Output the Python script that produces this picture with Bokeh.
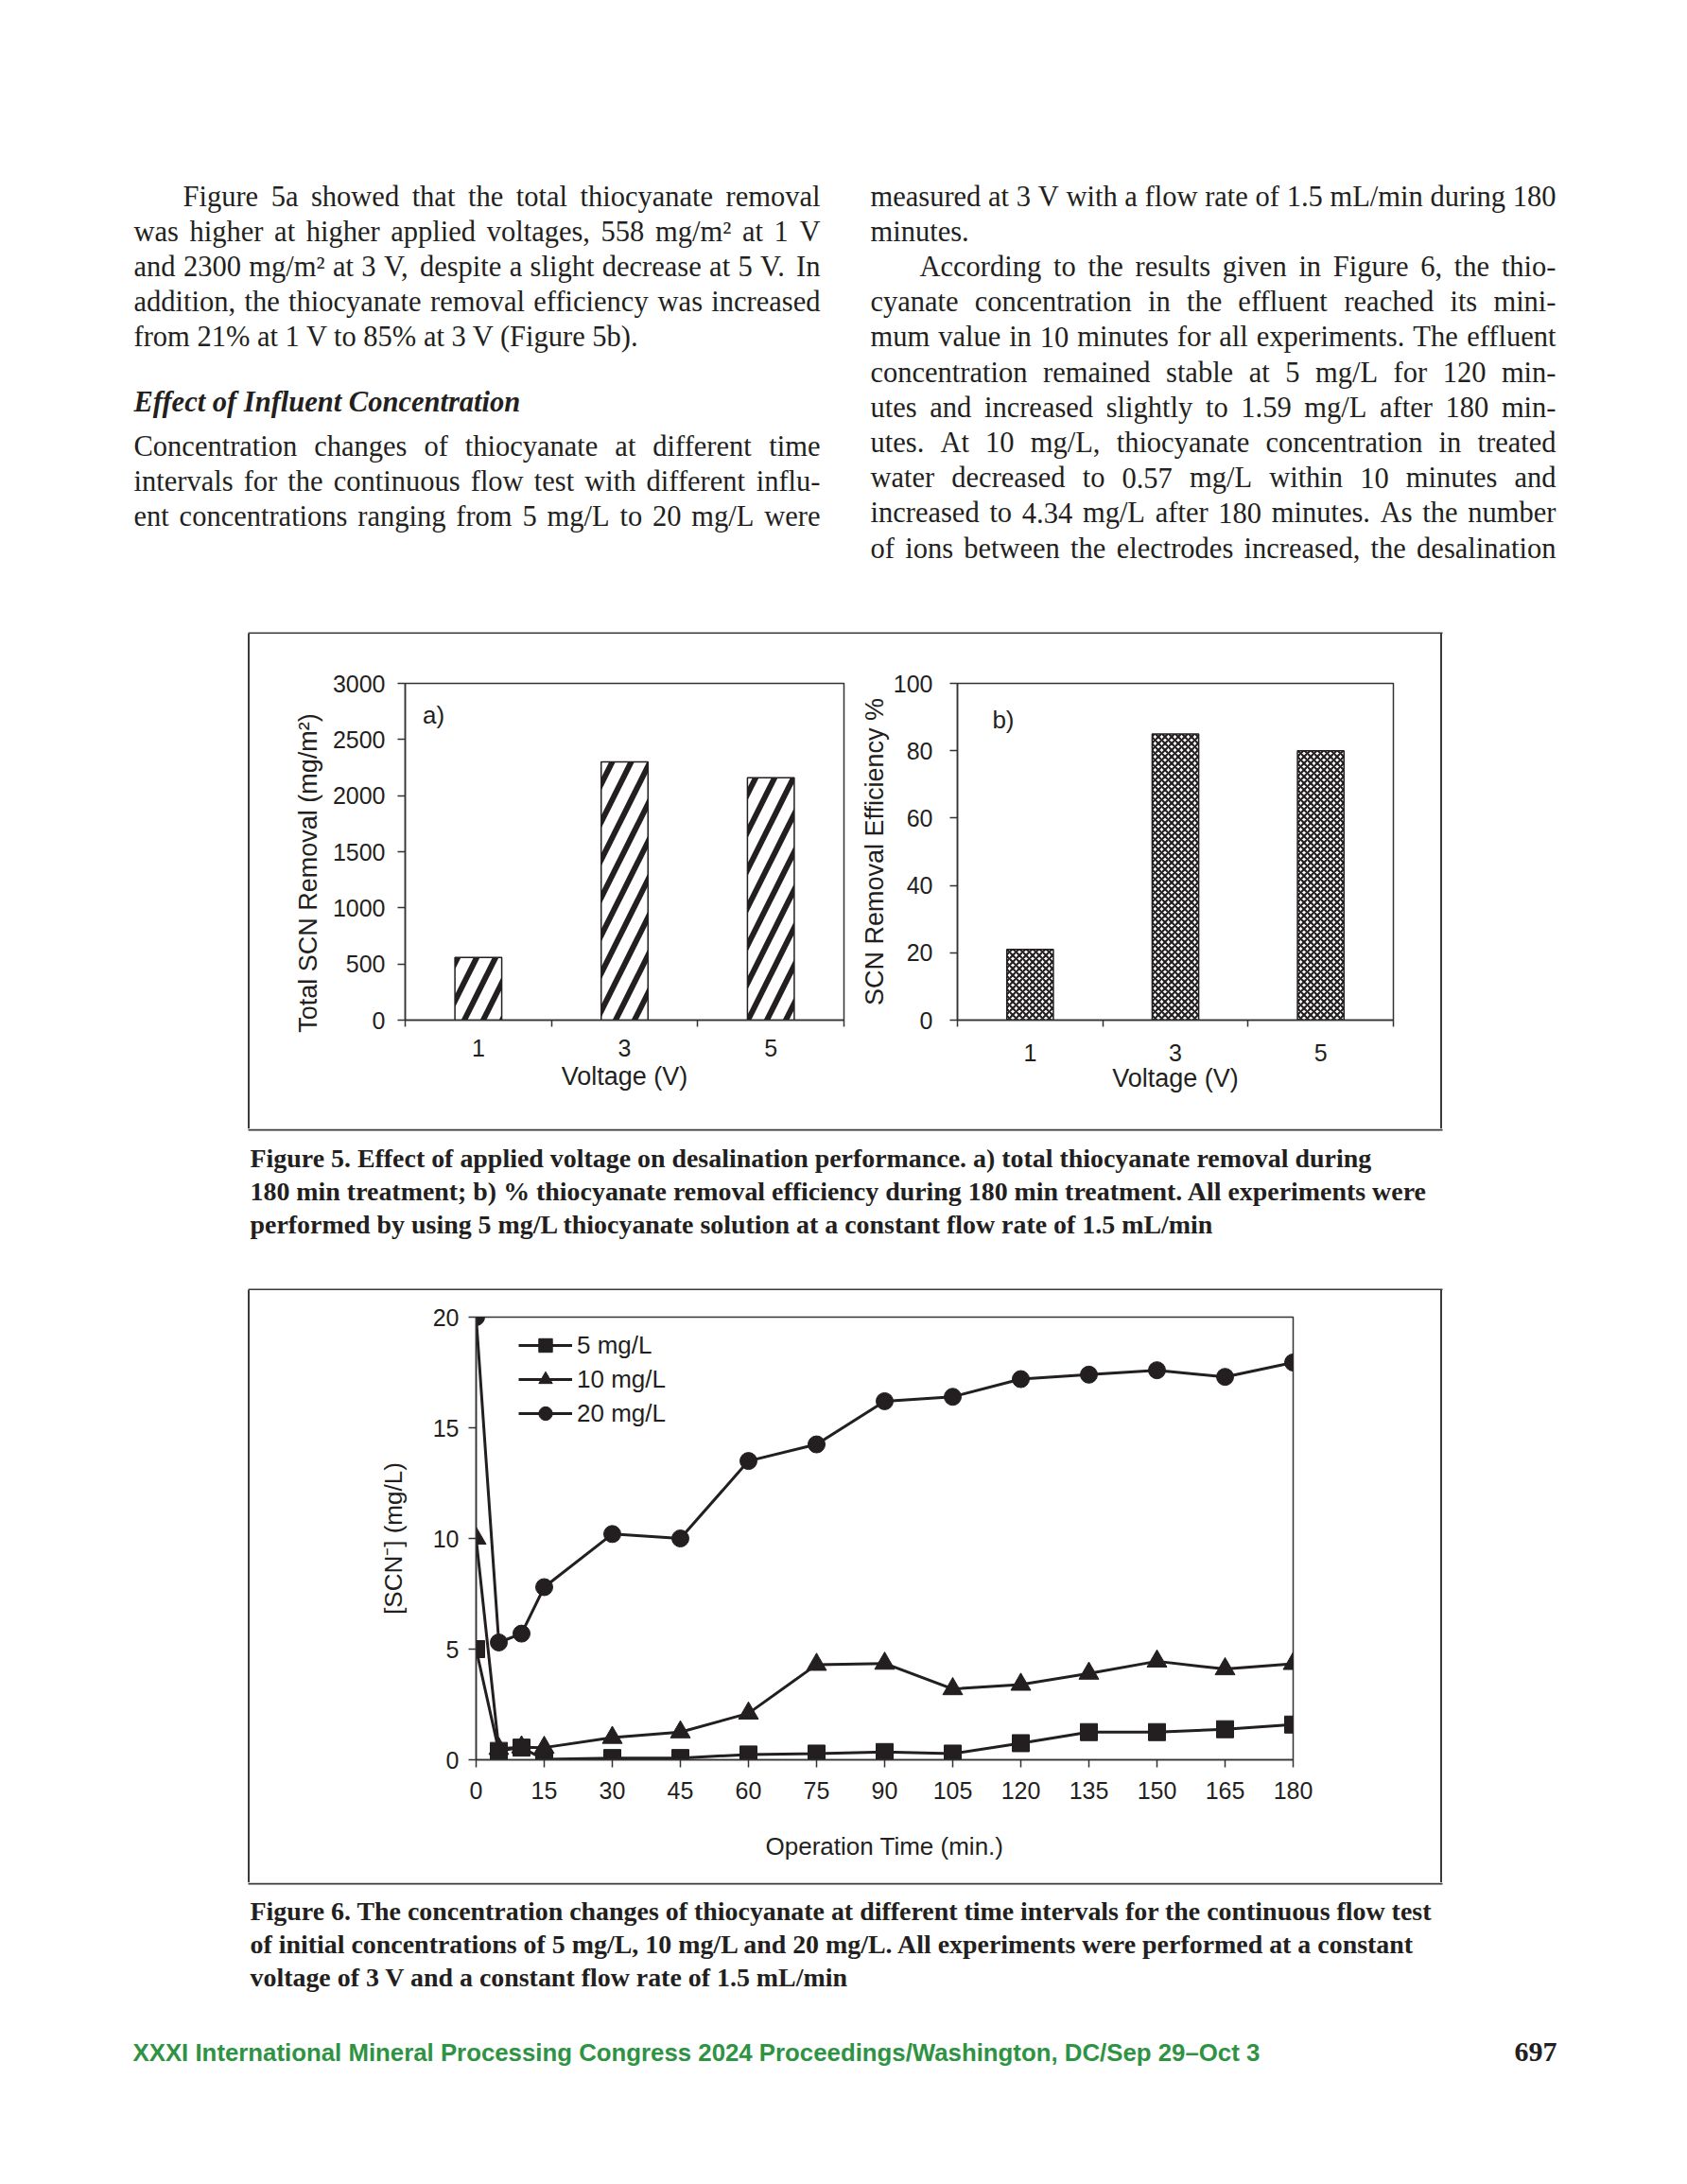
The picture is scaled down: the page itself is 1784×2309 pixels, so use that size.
from bokeh.plotting import figure
from bokeh.layouts import column, row
from bokeh.models import Range1d, FixedTicker, Legend, LegendItem, Div
from bokeh.core.properties import value
from bokeh.embed import file_html
from bokeh.resources import INLINE

# ---------------- data ----------------
voltage_labels = ["1", "3", "5"]
total_removal = [558, 2300, 2160]          # mg/m2
removal_eff = [21, 85, 80]                 # %
removal_ticks = [0, 500, 1000, 1500, 2000, 2500, 3000]
eff_ticks = [0, 20, 40, 60, 80, 100]

time_min = [0, 5, 10, 15, 30, 45, 60, 75, 90, 105, 120, 135, 150, 165, 180]
scn_5 = [5.0, 0.4, 0.55, 0.02, 0.08, 0.08, 0.24, 0.28, 0.35, 0.28, 0.75, 1.25, 1.25, 1.38, 1.59]
scn_10 = [10.0, 0.5, 0.57, 0.55, 1.0, 1.25, 2.1, 4.3, 4.35, 3.2, 3.4, 3.9, 4.45, 4.1, 4.34]
scn_20 = [20.0, 5.3, 5.7, 7.8, 10.2, 10.0, 13.5, 14.25, 16.2, 16.4, 17.2, 17.4, 17.6, 17.3, 17.95]
time_ticks = [0, 15, 30, 45, 60, 75, 90, 105, 120, 135, 150, 165, 180]
scn_ticks = [0, 5, 10, 15, 20]
series_labels = ["5 mg/L", "10 mg/L", "20 mg/L"]

left_col = [
    "Figure 5a showed that the total thiocyanate removal",
    "was higher at higher applied voltages, 558 mg/m\u00b2 at 1 V",
    "and 2300 mg/m\u00b2 at 3 V, despite a slight decrease at 5 V. In",
    "addition, the thiocyanate removal efficiency was increased",
    "from 21% at 1 V to 85% at 3 V (Figure 5b).",
]
heading = "Effect of Influent Concentration"
left_col2 = [
    "Concentration changes of thiocyanate at different time",
    "intervals for the continuous flow test with different influ-",
    "ent concentrations ranging from 5 mg/L to 20 mg/L were",
]
right_col = [
    "measured at 3 V with a flow rate of 1.5 mL/min during 180",
    "minutes.",
    "According to the results given in Figure 6, the thio-",
    "cyanate concentration in the effluent reached its mini-",
    "mum value in 10 minutes for all experiments. The effluent",
    "concentration remained stable at 5 mg/L for 120 min-",
    "utes and increased slightly to 1.59 mg/L after 180 min-",
    "utes. At 10 mg/L, thiocyanate concentration in treated",
    "water decreased to 0.57 mg/L within 10 minutes and",
    "increased to 4.34 mg/L after 180 minutes. As the number",
    "of ions between the electrodes increased, the desalination",
]
caption5 = [
    "Figure 5. Effect of applied voltage on desalination performance. a) total thiocyanate removal during",
    "180 min treatment; b) % thiocyanate removal efficiency during 180 min treatment. All experiments were",
    "performed by using 5 mg/L thiocyanate solution at a constant flow rate of 1.5 mL/min",
]
caption6 = [
    "Figure 6. The concentration changes of thiocyanate at different time intervals for the continuous flow test",
    "of initial concentrations of 5 mg/L, 10 mg/L and 20 mg/L. All experiments were performed at a constant",
    "voltage of 3 V and a constant flow rate of 1.5 mL/min",
]
footer = "XXXI International Mineral Processing Congress 2024 Proceedings/Washington, DC/Sep 29\u2013Oct 3"
page_no = "697"

# ---------------- styling ----------------
INK = "#231f20"
AX = "#333333"
BOXC = "#3a3a3a"
SANS = "Liberation Sans"
SERIF = "Liberation Serif"
DY = -9   # baseline correction for page texts

# Times-compatible advance widths (em) used to justify the body text
_R = dict(zip("abcdefghijklmnopqrstuvwxyz",
              [.444, .5, .444, .5, .444, .333, .5, .5, .278, .278, .5, .278, .778, .5, .5, .5, .5, .333, .389, .278, .5, .5, .722, .5, .5, .444]))
_R.update(zip("ABCDEFGHIJKLMNOPQRSTUVWXYZ",
              [.722, .667, .667, .722, .611, .556, .722, .722, .333, .389, .722, .611, .889, .722, .722, .556, .722, .667, .556, .611, .722, .722, .944, .722, .722, .611]))
_R.update({c: .5 for c in "0123456789"})
_R.update({".": .25, ",": .25, ";": .278, ":": .278, "-": .333, "/": .278, "(": .333, ")": .333, "%": .833, "\u00b2": .3, " ": .25})
_B = dict(zip("abcdefghijklmnopqrstuvwxyz",
              [.5, .556, .444, .556, .444, .333, .5, .556, .278, .333, .556, .278, .833, .556, .5, .556, .556, .444, .389, .333, .556, .5, .722, .5, .5, .444]))
_B.update(zip("ABCDEFGHIJKLMNOPQRSTUVWXYZ",
              [.722, .667, .722, .722, .667, .611, .778, .778, .389, .5, .778, .667, .944, .722, .778, .611, .778, .722, .556, .667, .722, .722, 1.0, .722, .722, .667]))
_B.update({c: .5 for c in "0123456789"})
_B.update({".": .25, ",": .25, ";": .333, ":": .333, "-": .333, "/": .278, "(": .333, ")": .333, "%": 1.0, " ": .25})


def em(s, table):
    return sum(table.get(c, .5) for c in s)


def fit_size(lines, widths, table, cap, min_gap=0.2):
    best = cap
    for ln, w in zip(lines, widths):
        words = ln.split(" ")
        need = sum(em(x, table) for x in words) + min_gap * (len(words) - 1)
        best = min(best, w / need)
    return best


def set_text(fig, lines, x_left, x_rights, baselines, size, table, font, justify, style="normal", indents=None, color=INK):
    lx, ly, lt, rx, ry, rt = [], [], [], [], [], []
    for i, ln in enumerate(lines):
        x0 = x_left + (indents[i] if indents else 0)
        y = baselines[i] + DY
        words = ln.split(" ")
        if not (justify[i] and len(words) > 1):
            lx.append(x0); ly.append(y); lt.append(ln)
            continue
        wds = [em(w, table) * size for w in words]
        gap = (x_rights[i] - x0 - sum(wds)) / (len(words) - 1)
        x = x0
        for j, (w, wd) in enumerate(zip(words, wds)):
            if j == len(words) - 1:
                rx.append(x_rights[i]); ry.append(y); rt.append(w)
            else:
                lx.append(x); ly.append(y); lt.append(w)
            x += wd + gap
    common = dict(text_font=value(font), text_font_size=f"{size:.2f}px", text_font_style=style,
                  text_baseline="alphabetic", text_color=color)
    fig.text(x=lx, y=ly, text=lt, text_align="left", **common)
    if rt:
        fig.text(x=rx, y=ry, text=rt, text_align="right", **common)


def page_fig(x0, x1, y0, y1):
    f = figure(width=x1 - x0, height=y1 - y0, x_range=Range1d(x0, x1), y_range=Range1d(y1, y0),
               x_axis_location=None, y_axis_location=None, toolbar_location=None,
               output_backend="svg", min_border=0, title=None)
    f.grid.visible = False
    f.outline_line_color = None
    f.background_fill_color = "white"
    f.border_fill_color = "white"
    return f


def side_pad(w, h, line_x):
    svg = (f'<svg width="{w}" height="{h}" style="display:block">'
           f'<rect x="{line_x}" y="0" width="2" height="{h}" fill="{BOXC}"/></svg>')
    return Div(text=svg, width=w, height=h, styles={"margin": "0", "padding": "0", "overflow": "hidden"})


BOX = dict(line_color=BOXC, line_width=2)
PAGE_W = 1784

# ---------------- page text (top) ----------------
top = page_fig(0, PAGE_W, 0, 670)
body_size = fit_size(left_col[:4] + left_col2 + [right_col[0]] + right_col[2:],
                     [867 - 141] * 7 + [1645 - 920] * 10, _R, 30.5, 0.2)
lead = 37.2
b0 = 216
set_text(top, left_col, 141, [867] * 5, [b0 + k * lead for k in range(5)], body_size, _R, SERIF,
         [True, True, True, True, False], indents=[52, 0, 0, 0, 0])
set_text(top, [heading], 141, [560], [433], body_size, _R, SERIF, [False], style="bold italic")
set_text(top, left_col2, 141, [867] * 3, [480, 517, 554], body_size, _R, SERIF, [True, True, True])
set_text(top, right_col, 920, [1645] * 11, [b0 + k * lead for k in range(11)], body_size, _R, SERIF,
         [True, False] + [True] * 9, indents=[0, 0, 52] + [0] * 8)
top.segment(x0=[262], y0=[669], x1=[1525], y1=[669], **BOX)

# ---------------- Figure 5 ----------------
xpos = [i + 0.5 for i in range(len(voltage_labels))]
bounds = [float(i) for i in range(len(voltage_labels) + 1)]


def bar_chart(width, mb, yr, ticks, values, ylabel, hatch, tag, tag_xy, tick_size, lab_std, ax_std, xl_std, xax_std):
    p = figure(width=width, height=523, x_range=Range1d(0, len(voltage_labels)), y_range=Range1d(*yr),
               toolbar_location=None, output_backend="svg", title=None,
               min_border_left=mb[0], min_border_right=mb[1], min_border_top=mb[2], min_border_bottom=mb[3])
    p.grid.visible = False
    p.background_fill_color = "white"
    p.border_fill_color = "white"
    p.outline_line_color = AX
    p.outline_line_width = 1.5
    p.vbar(x=xpos, top=values, width=0.32, fill_color="white", line_color=INK, line_width=1.5, **hatch)
    p.xaxis.ticker = FixedTicker(ticks=xpos, minor_ticks=bounds)
    p.xaxis.major_label_overrides = {x: lab for x, lab in zip(xpos, voltage_labels)}
    p.xaxis.major_tick_out = 0
    p.xaxis.major_tick_in = 0
    p.xaxis.minor_tick_out = 7
    p.xaxis.minor_tick_in = 0
    p.xaxis.minor_tick_line_color = AX
    p.xaxis.minor_tick_line_width = 1.5
    p.xaxis.axis_label = "Voltage (V)"
    p.xaxis.major_label_standoff = xl_std
    p.xaxis.axis_label_standoff = xax_std
    p.yaxis.ticker = FixedTicker(ticks=ticks, minor_ticks=[])
    p.yaxis.major_tick_out = 8
    p.yaxis.major_tick_in = 0
    p.yaxis.major_label_standoff = lab_std
    p.yaxis.axis_label = ylabel
    p.yaxis.axis_label_standoff = ax_std
    for ax in (p.xaxis, p.yaxis):
        ax.axis_line_color = AX
        ax.axis_line_width = 1.5
        ax.major_tick_line_color = AX
        ax.major_tick_line_width = 1.5
        ax.major_label_text_font = SANS
        ax.major_label_text_font_size = f"{tick_size}px"
        ax.major_label_text_color = INK
        ax.axis_label_text_font = SANS
        ax.axis_label_text_font_size = "27px"
        ax.axis_label_text_font_style = "normal"
        ax.axis_label_text_color = INK
    p.text(x=[tag_xy[0]], y=[tag_xy[1]], text=[tag], text_font=value(SANS), text_font_size="26px",
           text_baseline="alphabetic", text_color=INK)
    return p


NB = "\u00a0"
p5a = bar_chart(642, (164, 14, 52, 115), (0, 3000), removal_ticks, total_removal,
                "Total SCN Removal (mg/m\u00b2)" + NB * 6,
                dict(hatch_pattern="right_diagonal_line", hatch_color=INK, hatch_weight=6, hatch_scale=40),
                "a)", (0.12, 2720), 25, 13, 8, 13, 3)
p5b = bar_chart(617, (105, 50, 52, 115), (0, 100), eff_ticks, removal_eff,
                "SCN Removal Efficiency %",
                dict(hatch_pattern="diagonal_cross", hatch_color=INK, hatch_weight=2.2, hatch_scale=7),
                "b)", (0.24, 89.3), 25, 18, 2, 18, 0)

pad5l = side_pad(264, 523, 262)
pad5r = side_pad(PAGE_W - 1523, 523, 0)

# ---------------- caption 5 ----------------
cap5 = page_fig(0, PAGE_W, 1193, 1364)
cap_targets = [1446 - 264, 1504 - 264, 1290 - 264, 1513 - 264, 1502 - 264, 898 - 264]
ratios = sorted(w / em(l, _B) for l, w in zip(caption5 + caption6, cap_targets))
cap_size = min(29.0, 0.5 * (ratios[2] + ratios[3]))
set_text(cap5, caption5, 264, [0, 0, 0], [1233, 1268, 1303], cap_size, _B, SERIF,
         [False, False, False], style="bold")
cap5.segment(x0=[262], y0=[1194], x1=[1525], y1=[1194], **BOX)
cap5.segment(x0=[262], y0=[1363], x1=[1525], y1=[1363], **BOX)

# ---------------- Figure 6 ----------------
p6 = figure(width=1259, height=626, x_range=Range1d(0, 180), y_range=Range1d(0, 20),
            toolbar_location=None, output_backend="svg", title=None,
            min_border_left=239, min_border_right=156, min_border_top=28, min_border_bottom=130)
p6.grid.visible = False
p6.background_fill_color = "white"
p6.border_fill_color = "white"
p6.outline_line_color = AX
p6.outline_line_width = 1.5
items = []
for ys, marker, size, lab in zip([scn_5, scn_10, scn_20], ["square", "triangle", "circle"], [18, 21, 18], series_labels):
    r1 = p6.line(time_min, ys, line_color=INK, line_width=3)
    r2 = p6.scatter(time_min, ys, marker=marker, size=size, fill_color=INK, line_color=INK)
    items.append(LegendItem(label=lab, renderers=[r1, r2]))
leg = Legend(items=items, location=(45, 348), margin=0, padding=0, spacing=0, glyph_width=57, glyph_height=36,
             label_height=36, label_standoff=5, label_text_font=SANS, label_text_font_size="26px",
             label_text_color=INK, border_line_color=None, background_fill_alpha=0)
p6.add_layout(leg)
p6.xaxis.ticker = FixedTicker(ticks=time_ticks, minor_ticks=[])
p6.yaxis.ticker = FixedTicker(ticks=scn_ticks, minor_ticks=[])
p6.xaxis.axis_label = "Operation Time (min.)"
p6.yaxis.axis_label = "[SCN\u207b] (mg/L)"
p6.xaxis.major_label_standoff = 15
p6.xaxis.axis_label_standoff = 32
p6.yaxis.major_label_standoff = 10
p6.yaxis.axis_label_standoff = 24
for ax in (p6.xaxis, p6.yaxis):
    ax.major_tick_out = 8
    ax.major_tick_in = 0
    ax.axis_line_color = AX
    ax.axis_line_width = 1.5
    ax.major_tick_line_color = AX
    ax.major_tick_line_width = 1.5
    ax.major_label_text_font = SANS
    ax.major_label_text_font_size = "25px"
    ax.major_label_text_color = INK
    ax.axis_label_text_font = SANS
    ax.axis_label_text_font_size = "26px"
    ax.axis_label_text_font_style = "normal"
    ax.axis_label_text_color = INK

pad6l = side_pad(264, 626, 262)
pad6r = side_pad(PAGE_W - 1523, 626, 0)

# ---------------- bottom ----------------
bot = page_fig(0, PAGE_W, 1990, 2309)
bot.segment(x0=[262], y0=[1991], x1=[1525], y1=[1991], **BOX)
set_text(bot, caption6, 264, [0, 0, 0], [2029, 2064, 2099], cap_size, _B, SERIF,
         [False, False, False], style="bold")
bot.text(x=[140], y=[2178 + DY], text=[footer], text_font=value(SANS), text_font_style="bold",
         text_font_size="25.8px", text_baseline="alphabetic", text_color="#2e9343")
bot.text(x=[1646], y=[2178 + DY], text=[page_no], text_font=value(SERIF), text_font_style="bold",
         text_font_size="30px", text_baseline="alphabetic", text_align="right", text_color=INK)

layout = column(top, row(pad5l, p5a, p5b, pad5r), cap5, row(pad6l, p6, pad6r), bot)
open("out.html", "w").write(file_html(layout, INLINE))
